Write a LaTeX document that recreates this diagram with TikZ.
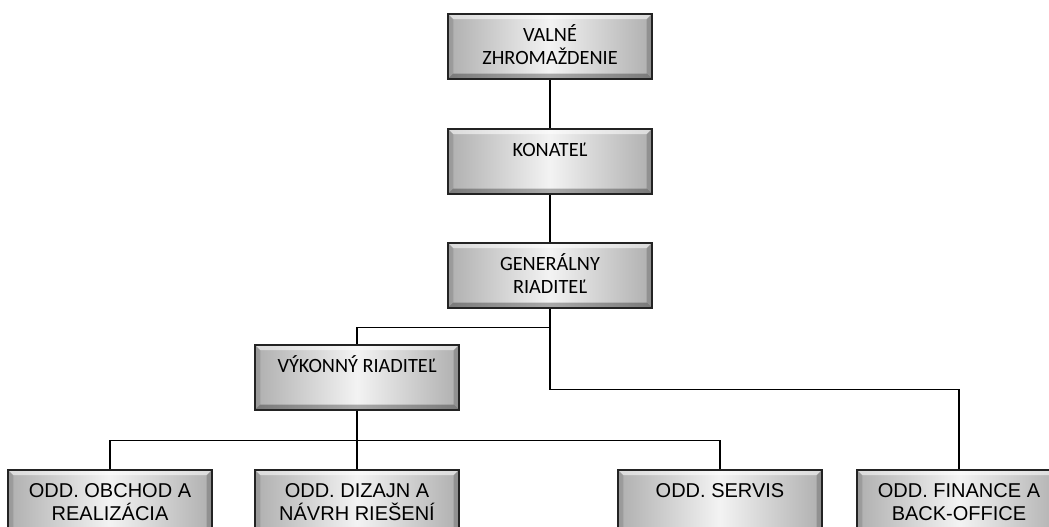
\documentclass[tikz,border=0pt]{standalone}
\usepackage{fontspec}
\newfontfamily\calfont{Carlito}
\newfontfamily\arfont{Liberation Sans}
\usepackage{tikz}
\usetikzlibrary{shadows}
\definecolor{boxedge}{RGB}{35,35,35}
\definecolor{boxside}{RGB}{175,175,175}
\definecolor{boxmid}{RGB}{243,243,243}
\newcommand{\orgtext}[1]{\parbox[c][48.75pt][t]{150pt}{\centering\rule{0pt}{21pt}#1}}

\begin{document}
\begin{tikzpicture}[x=0.75pt, y=-0.75pt,
  orgbox/.style={draw=boxedge, line width=1.3pt, rectangle, anchor=north,
    inner sep=0pt, minimum width=153pt, minimum height=48.75pt,
    left color=boxside, right color=boxside, middle color=boxmid,
    drop shadow={opacity=0.3, shadow xshift=0.8pt, shadow yshift=-0.8pt},
    path picture={
      \fill[white, opacity=0.55] (path picture bounding box.north west) -- (path picture bounding box.north east)
        -- ([xshift=-4pt,yshift=-4pt]path picture bounding box.north east) -- ([xshift=4pt,yshift=-4pt]path picture bounding box.north west) -- cycle;
      \fill[black, opacity=0.3] (path picture bounding box.south west) -- (path picture bounding box.south east)
        -- ([xshift=-4pt,yshift=4pt]path picture bounding box.south east) -- ([xshift=4pt,yshift=4pt]path picture bounding box.south west) -- cycle;
      \fill[black, opacity=0.12] (path picture bounding box.north west) -- (path picture bounding box.south west)
        -- ([xshift=4pt,yshift=4pt]path picture bounding box.south west) -- ([xshift=4pt,yshift=-4pt]path picture bounding box.north west) -- cycle;
      \fill[black, opacity=0.18] (path picture bounding box.north east) -- (path picture bounding box.south east)
        -- ([xshift=-4pt,yshift=4pt]path picture bounding box.south east) -- ([xshift=-4pt,yshift=-4pt]path picture bounding box.north east) -- cycle;
    }},
  topbox/.style={orgbox, font=\calfont\fontsize{15.2}{17.25}\selectfont},
  botbox/.style={orgbox, font=\arfont\fontsize{15}{17.25}\selectfont},
  link/.style={draw, line width=1pt}]
\useasboundingbox (0,0) rectangle (1049,527);
\clip (0,0) rectangle (1049,527);

% management
\node[topbox] (valne) at (550,13) {\orgtext{VALNÉ\\ZHROMAŽDENIE}};
\node[topbox] (konatel) at (550,128) {\orgtext{KONATEĽ}};
\node[topbox] (general) at (550,242) {\orgtext{GENERÁLNY\\RIADITEĽ}};
\node[topbox] (vykonny) at (357,344) {\orgtext{VÝKONNÝ RIADITEĽ}};

% departments
\node[botbox] (obchod) at (110,469) {\orgtext{ODD. OBCHOD A\\REALIZÁCIA}};
\node[botbox] (dizajn) at (357,469) {\orgtext{ODD. DIZAJN A\\NÁVRH RIEŠENÍ}};
\node[botbox] (servis) at (720,469) {\orgtext{ODD. SERVIS}};
\node[botbox] (finance) at (959,469) {\orgtext{ODD. FINANCE A\\BACK-OFFICE}};

\draw[link] (valne) -- (konatel);
\draw[link] (konatel) -- (general);
\draw[link] (general.south) -- ++(0,19) -| (vykonny.north);
\draw[link] (general.south) -- ++(0,81) -| (finance.north);
\draw[link] (vykonny.south) -- (dizajn.north);
\draw[link] (vykonny.south) -- ++(0,30) -| (obchod.north);
\draw[link] (vykonny.south) -- ++(0,30) -| (servis.north);
\end{tikzpicture}
\end{document}
